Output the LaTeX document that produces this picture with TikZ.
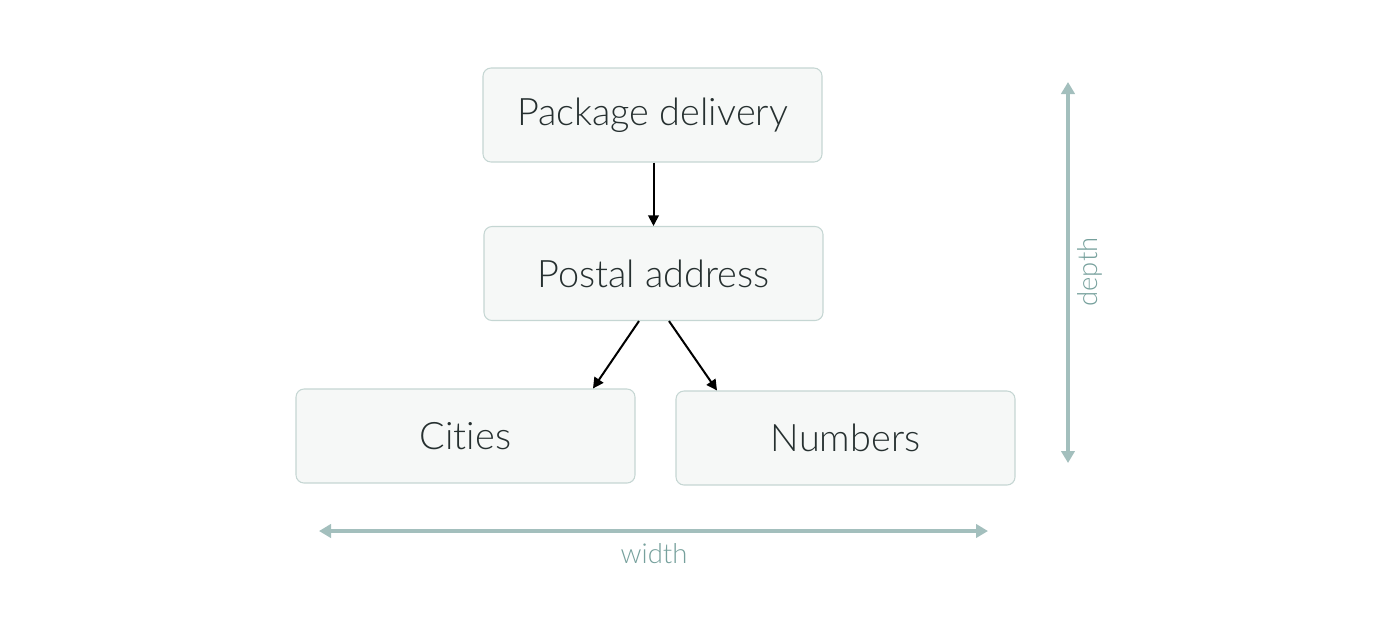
\documentclass[tikz,border=0pt]{standalone}
\usepackage{fontspec}
\setmainfont{Lato Light}[RawFeature={-liga}]
\usetikzlibrary{arrows.meta}
\definecolor{boxfill}{HTML}{F6F8F7}
\definecolor{boxline}{HTML}{C5D6D3}
\definecolor{txt}{HTML}{263030}
\definecolor{dimline}{HTML}{A3BFBD}
\definecolor{dimtxt}{HTML}{76A09C}
\tikzset{
  box/.style={draw=boxline, fill=boxfill, line width=0.8pt, rounded corners=6pt,
    minimum width=339*0.75pt, minimum height=94*0.75pt, inner sep=0pt,
    text=txt, font=\fontsize{28.4}{32}\selectfont},
  link/.style={draw=black, line width=1.5pt, -{Triangle[length=8pt,width=8pt]}},
  dim/.style={draw=dimline, line width=2.4pt, {Triangle[length=9pt,width=10pt]}-{Triangle[length=9pt,width=10pt]}},
  dimlabel/.style={text=dimtxt, font=\fontsize{20.6}{24}\selectfont, inner sep=0pt}
}
\begin{document}
\begin{tikzpicture}[x=0.75pt,y=-0.75pt]
\useasboundingbox (0,0) rectangle (1400,633);
\node[box] (pd) at (652.5,115) {Package delivery};
\node[box] (pa) at (653.5,273.5) {Postal address};
\node[box] (ci) at (465.5,436) {Cities};
\node[box] (nu) at (845.5,438) {Numbers};
\draw[link] ([xshift=1*0.75pt]pd.south) -- ([xshift=1*0.75pt]pd.south |- pa.north);
\draw[link] ([xshift=-14.5*0.75pt]pa.south) -- ([xshift=127.5*0.75pt]ci.north);
\draw[link] ([xshift=15.5*0.75pt]pa.south) -- ([xshift=-128.5*0.75pt]nu.north);
\coordinate (dtop) at (1068,82);
\coordinate (dbot) at (1068,463);
\coordinate (wl) at (319,531);
\coordinate (wr) at (988,531);
\draw[dim] (dtop) -- (dbot);
\draw[dim] (wl) -- (wr);
\node[dimlabel, rotate=90] (dl) at (1090,272) {depth};
\node[dimlabel] (wlab) at (654,554) {width};
\end{tikzpicture}
\end{document}
